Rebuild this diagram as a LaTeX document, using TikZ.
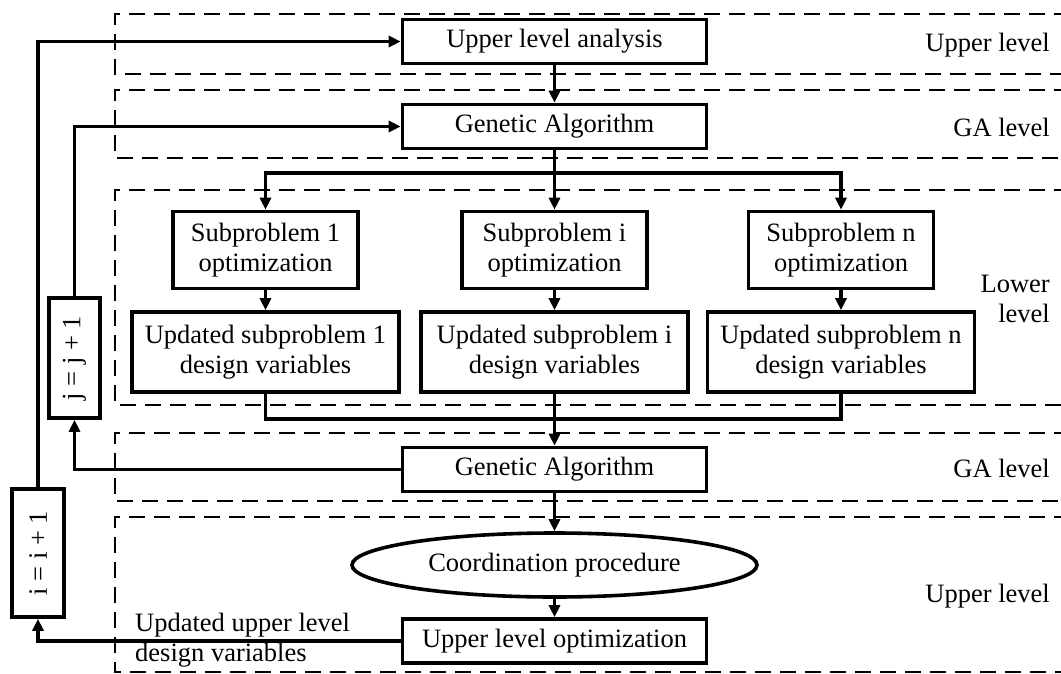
\documentclass[tikz,border=0pt]{standalone}
\usepackage{fontspec}
\setmainfont{Liberation Serif}
\usetikzlibrary{arrows.meta,shapes.geometric}
\newcommand\dgfont{\fontsize{26.5}{30}\selectfont}
\begin{document}
\begin{tikzpicture}[x=1pt,y=-1pt,
  box/.style={draw,line width=3.6pt,inner sep=0pt,align=center,font=\dgfont},
  wide/.style={box,minimum width=304pt,minimum height=44pt},
  subbox/.style={box,minimum width=185pt,minimum height=77pt},
  updbox/.style={box,minimum width=267pt,minimum height=80pt},
  level/.style={font=\dgfont,anchor=east,align=right,inner sep=0pt},
  band/.style={draw,line width=2.2pt,dash pattern=on 16pt off 9pt},
  conn/.style={line width=3.2pt},
  arr/.style={conn,-{Triangle[length=12pt,width=11pt]}}
]
\useasboundingbox (0,0) rectangle (1061,673);
\fill[white] (0,0) rectangle (1061,673);
\clip (0,0) rectangle (1061,673);

% dashed level bands (open to the right)
\draw[band] (1070,14) -- (115,14) -- (115,74) -- (1070,74);
\draw[band] (1070,90) -- (115,90) -- (115,158) -- (1070,158);
\draw[band] (1070,190) -- (115,190) -- (115,405) -- (1070,405);
\draw[band] (1070,433) -- (115,433) -- (115,501) -- (1070,501);
\draw[band] (1070,517) -- (115,517) -- (115,672) -- (1070,672);

% level labels
\node[level] (l1) at (1050,45) {Upper level};
\node[level] (l2) at (1050,127) {GA level};
\node[level] (l3) at (1050,299) {Lower\\level};
\node[level] (l4) at (1050,468) {GA level};
\node[level] (l5) at (1050,596) {Upper level};

% main nodes
\node[wide] (ula) at (554.5,41.5) {Upper level analysis};
\node[wide] (ga1) at (554.5,126.5) {Genetic Algorithm};
\node[subbox] (sp1) at (265.5,250) {Subproblem 1\\optimization};
\node[subbox] (spi) at (554.5,250) {Subproblem i\\optimization};
\node[subbox] (spn) at (841,250) {Subproblem n\\optimization};
\node[updbox] (up1) at (265.5,352) {Updated subproblem 1\\design variables};
\node[updbox] (upi) at (554.5,352) {Updated subproblem i\\design variables};
\node[updbox] (upn) at (841,352) {Updated subproblem n\\design variables};
\node[wide] (ga2) at (554.5,469.5) {Genetic Algorithm};
\node[box,ellipse,minimum width=405pt,minimum height=64pt] (coord) at (554.5,565) {Coordination procedure};
\node[wide] (ulo) at (554.5,641) {Upper level optimization};
\node[box,minimum width=52pt,minimum height=128pt] (ibox) at (38,553) {\rotatebox{90}{i = i + 1}};
\node[box,minimum width=51pt,minimum height=120pt] (jbox) at (74.5,358) {\rotatebox{90}{j = j + 1}};
\node[font=\dgfont,align=left,anchor=west,inner sep=0pt] (lbl) at (135,640) {Updated upper level\\design variables};

% connectors
\coordinate (br) at (554.5,173);
\coordinate (mg) at (554.5,419);
\draw[arr] (ula) -- (ga1);
\draw[conn] (ga1.south) -- (br);
\draw[arr] (br) -| (sp1.north);
\draw[arr] (br) -| (spn.north);
\draw[arr] (br) -- (spi.north);
\draw[arr] (sp1) -- (up1);
\draw[arr] (spi) -- (upi);
\draw[arr] (spn) -- (upn);
\draw[conn] (up1.south) |- (mg) -| (upn.south);
\draw[arr] (upi.south) -- (ga2.north);
\draw[arr] (ga2) -- (coord);
\draw[arr] (coord) -- (ulo);
\draw[arr] (ulo.west) -| (ibox.south);
\draw[arr] (ibox.north) |- (ula.west);
\draw[arr] (ga2.west) -| (jbox.south);
\draw[arr] (jbox.north) |- (ga1.west);
\end{tikzpicture}
\end{document}
